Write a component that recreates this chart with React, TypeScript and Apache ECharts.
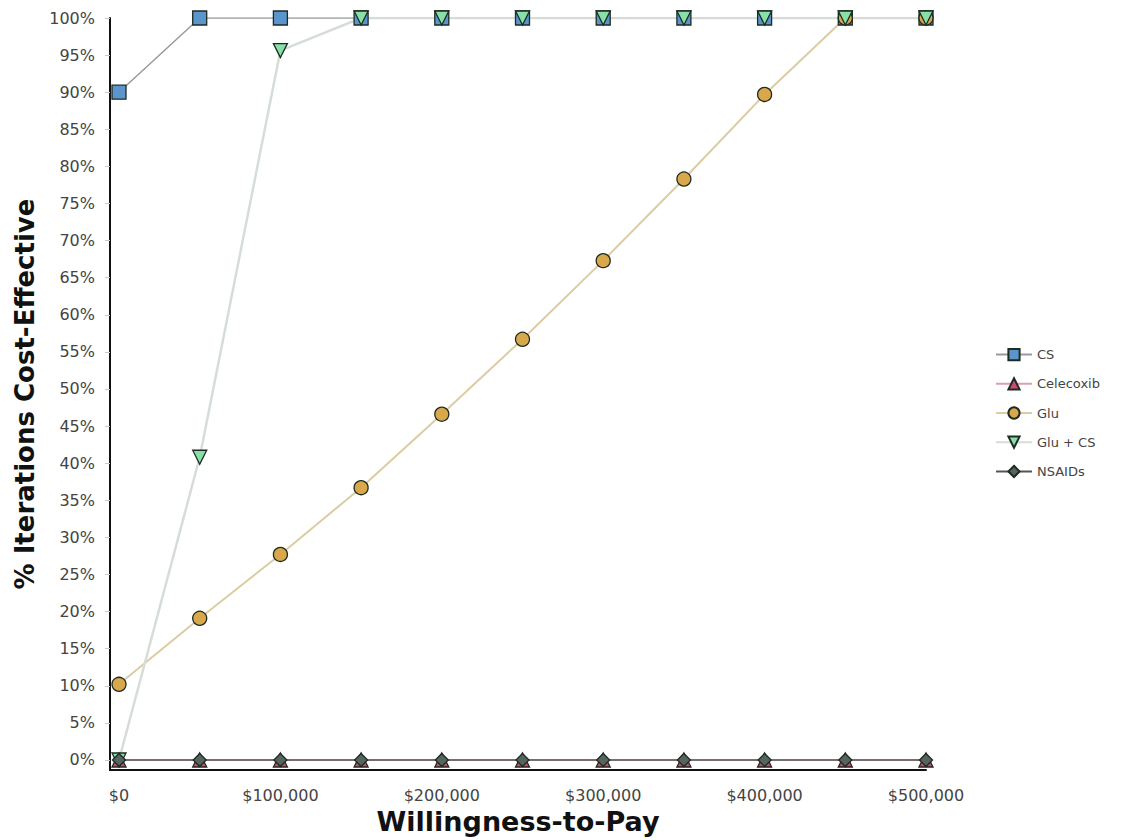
import React, { useEffect, useRef } from "react";
import * as echarts from "echarts";

const wtp = [0, 50000, 100000, 150000, 200000, 250000, 300000, 350000, 400000, 450000, 500000];
const csValues = [90, 100, 100, 100, 100, 100, 100, 100, 100, 100, 100];
const celecoxibValues = [0, 0, 0, 0, 0, 0, 0, 0, 0, 0, 0];
const gluValues = [10.2, 19.1, 27.7, 36.7, 46.6, 56.7, 67.3, 78.3, 89.7, 100, 100];
const gluCsValues = [0, 40.8, 95.6, 100, 100, 100, 100, 100, 100, 100, 100];
const nsaidValues = [0, 0, 0, 0, 0, 0, 0, 0, 0, 0, 0];
const xTickValues = [0, 100000, 200000, 300000, 400000, 500000];
const yTickValues = [0, 5, 10, 15, 20, 25, 30, 35, 40, 45, 50, 55, 60, 65, 70, 75, 80, 85, 90, 95, 100];

const font = "DejaVu Sans, Verdana, sans-serif";

const pairs = (vals: number[]) => wtp.map((x, i) => [x, vals[i]]);

export default function App() {
  const ref = useRef<HTMLDivElement>(null);
  useEffect(() => {
    if (!ref.current) return;
    const chart = echarts.init(ref.current, null, { renderer: "svg" });
    const mk = (
      name: string,
      vals: number[],
      symbol: string,
      fill: string,
      lineColor: string,
      lineWidth: number,
      rotate = 0,
      size = 14
    ) => ({
      name,
      type: "line",
      data: pairs(vals),
      symbol,
      symbolSize: size,
      symbolRotate: rotate,
      showAllSymbol: true,
      lineStyle: { color: lineColor, width: lineWidth },
      itemStyle: { color: fill, borderColor: "#1e2a22", borderWidth: 1.3 },
      emphasis: { disabled: true },
    });
    chart.setOption({
      animation: false,
      backgroundColor: "#ffffff",
      grid: { left: 110, right: 210, top: 18, bottom: 70, containLabel: false, outerBoundsMode: "none" },
      xAxis: {
        type: "value",
        min: -5576,
        max: 500000,
        name: "Willingness-to-Pay",
        nameLocation: "middle",
        nameGap: 37,
        nameTextStyle: { fontFamily: font, fontSize: 27, fontWeight: "bold", color: "#111" },
        axisLine: { onZero: false, lineStyle: { color: "#111", width: 2 } },
        axisTick: { show: false },
        splitLine: { show: false },
        axisLabel: {
          customValues: xTickValues,
          margin: 17,
          fontFamily: font,
          fontSize: 16,
          color: "#444",
          formatter: (v: number) => "$" + v.toLocaleString("en-US"),
        },
      },
      yAxis: {
        type: "value",
        min: -1.35,
        max: 100,
        name: "% Iterations Cost-Effective",
        nameLocation: "middle",
        nameGap: 72,
        nameTextStyle: { fontFamily: font, fontSize: 26, fontWeight: "bold", color: "#111" },
        axisLine: { show: true, onZero: false, lineStyle: { color: "#111", width: 2 } },
        axisTick: { show: true, customValues: yTickValues, length: 5, lineStyle: { color: "#c8c8c8", width: 1 } },
        splitLine: { show: false },
        axisLabel: {
          customValues: yTickValues,
          margin: 15,
          fontFamily: font,
          fontSize: 16,
          color: "#444",
          formatter: (v: number) => v + "%",
        },
      },
      legend: {
        orient: "vertical",
        left: 990,
        top: 343,
        itemWidth: 36,
        itemHeight: 14,
        itemGap: 16,
        textStyle: { fontFamily: font, fontSize: 13, color: "#444" },
        data: ["CS", "Celecoxib", "Glu", "Glu + CS", "NSAIDs"],
      },
      series: [
        mk("CS", csValues, "rect", "#5a96cc", "#9a9a9a", 1.5),
        mk("Celecoxib", celecoxibValues, "triangle", "#d24a6e", "#d8a0b0", 1.5),
        mk("Glu", gluValues, "circle", "#d9a84a", "#dccca4", 2),
        mk("Glu + CS", gluCsValues, "triangle", "#86e0a8", "#d6ddd6", 2.5, 180),
        mk("NSAIDs", nsaidValues, "diamond", "#55645e", "#555", 1.5, 0, 13),
      ],
    });
    return () => chart.dispose();
  }, []);
  return (
    <div
      ref={ref}
      style={{ position: "absolute", left: 0, top: 0, width: 1136, height: 840 }}
    />
  );
}
